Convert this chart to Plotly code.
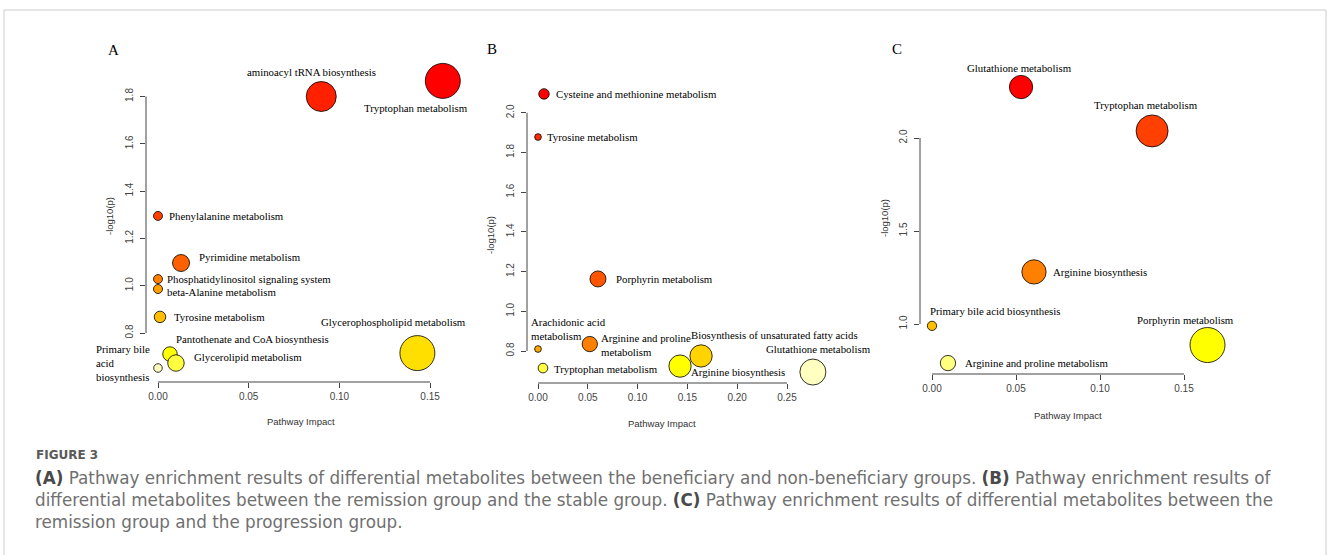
import colorsys
import numpy as np
import plotly.graph_objects as go

W, H = 1328, 555

# ---------------- data ----------------
A_names = ["Tryptophan metabolism", "aminoacyl tRNA biosynthesis", "Phenylalanine metabolism",
           "Pyrimidine metabolism", "Phosphatidylinositol signaling system", "beta-Alanine metabolism",
           "Tyrosine metabolism", "Glycerophospholipid metabolism", "Pantothenate and CoA biosynthesis",
           "Glycerolipid metabolism", "Primary bile<br>acid<br>biosynthesis"]
A_impact = [0.157, 0.090, 0.0, 0.0127, 0.0, 0.0, 0.0011, 0.143, 0.0066, 0.0099, 0.0]
A_logp = [1.866, 1.800, 1.295, 1.096, 1.028, 0.986, 0.868, 0.715, 0.711, 0.673, 0.652]
A_bubble = [35, 30, 9, 17, 9, 9, 11.5, 35, 14.5, 16.5, 8.5]
A_xticks = [0.00, 0.05, 0.10, 0.15]
A_yticks = [0.8, 1.0, 1.2, 1.4, 1.6, 1.8]

B_names = ["Cysteine and methionine metabolism", "Tyrosine metabolism", "Porphyrin metabolism",
           "Arginine and proline<br>metabolism", "Arachidonic acid<br>metabolism",
           "Biosynthesis of unsaturated fatty acids", "Arginine biosynthesis",
           "Tryptophan metabolism", "Glutathione metabolism"]
B_impact = [0.006, 0.0, 0.0602, 0.052, 0.0, 0.1637, 0.1426, 0.005, 0.276]
B_logp = [2.095, 1.878, 1.163, 0.835, 0.810, 0.775, 0.724, 0.714, 0.694]
B_bubble = [10.5, 6.7, 16, 15.3, 6.7, 22.3, 22.3, 9.7, 26]
B_xticks = [0.00, 0.05, 0.10, 0.15, 0.20, 0.25]
B_yticks = [0.8, 1.0, 1.2, 1.4, 1.6, 1.8, 2.0]

C_names = ["Glutathione metabolism", "Tryptophan metabolism", "Arginine biosynthesis",
           "Primary bile acid biosynthesis", "Porphyrin metabolism", "Arginine and proline metabolism"]
C_impact = [0.053, 0.131, 0.0607, 0.0, 0.164, 0.0095]
C_logp = [2.274, 2.038, 1.280, 0.990, 0.887, 0.790]
C_bubble = [23.3, 32, 24.3, 9.3, 35, 15.3]
C_xticks = [0.00, 0.05, 0.10, 0.15]
C_yticks = [1.0, 1.5, 2.0]

caption_title = "FIGURE 3"
caption_lines = [
    "<b>(A)</b> Pathway enrichment results of differential metabolites between the beneficiary and non-beneficiary groups. <b>(B)</b> Pathway enrichment results of",
    "differential metabolites between the remission group and the stable group. <b>(C)</b> Pathway enrichment results of differential metabolites between the",
    "remission group and the progression group.",
]

# ---------------- label placement (px offsets from the bubble centre) ----------------
A_lab = [("center", -27, 27), ("center", -10, -25), ("left", 9, 0), ("left", 16, -6), ("left", 7, 0),
         ("left", 7, 3), ("left", 12, 0), ("right", 51, -31), ("left", 4, -15), ("left", 16, -6),
         ("right", -6, -5)]
B_lab = [("left", 10, 0), ("left", 7, 0), ("left", 16, 0), ("left", 9, 1), ("left", -9, -20),
         ("left", -12, -21), ("left", 9, 6), ("left", 9, 1), ("left", -49, -23)]
C_lab = [("center", -2, -19), ("center", -6, -26), ("left", 17, 0), ("left", -4, -15),
         ("center", -22, -25), ("left", 15, 0)]


def heat_colors(n):
    """R's grDevices::heat.colors(n)."""
    j = n // 4
    i = n - j
    cols = []
    hues = np.linspace(0, 1 / 6, i) if i > 1 else [0]
    for h in hues:
        cols.append(colorsys.hsv_to_rgb(h, 1, 1))
    if j > 0:
        for s in np.linspace(1 - 1 / (2 * j), 1 / (2 * j), j):
            cols.append(colorsys.hsv_to_rgb(1 / 6, s, 1))
    return ["#%02X%02X%02X" % tuple(int(round(c * 255)) for c in col) for col in cols]


def colors_by_p(logp):
    hc = heat_colors(len(logp))
    order = np.argsort(-np.array(logp))
    out = [None] * len(logp)
    for rank, idx in enumerate(order):
        out[idx] = hc[rank]
    return out


# pixel calibration for each panel: data origin pixel, px per unit, plot box (l, r, t, b)
panels = [
    dict(names=A_names, x=A_impact, y=A_logp, s=A_bubble, lab=A_lab, xt=A_xticks, yt=A_yticks,
         x0px=158, xs=1814, y0v=0.8, y0px=333, ys=236.5, box=(146, 478, 40, 382),
         letter="A", lpos=(113, 50), ytitle=(109, 216), xtitle=(301, 421)),
    dict(names=B_names, x=B_impact, y=B_logp, s=B_bubble, lab=B_lab, xt=B_xticks, yt=B_yticks,
         x0px=538, xs=996, y0v=0.8, y0px=351, ys=198.5, box=(527, 875, 40, 383),
         letter="B", lpos=(492, 49), ytitle=(490, 235), xtitle=(662, 423)),
    dict(names=C_names, x=C_impact, y=C_logp, s=C_bubble, lab=C_lab, xt=C_xticks, yt=C_yticks,
         x0px=932, xs=1680, y0v=1.0, y0px=324, ys=186, box=(920, 1240, 40, 374),
         letter="C", lpos=(897, 49), ytitle=(884, 218), xtitle=(1068, 415)),
]

SERIF = "Liberation Serif"
SANS = "Liberation Sans"


def fx(p):
    return p / W


def fy(p):
    return 1 - p / H


fig = go.Figure()
annotations = []
shapes = []
layout = {}

for k, P in enumerate(panels, start=1):
    xa = "x" if k == 1 else f"x{k}"
    ya = "y" if k == 1 else f"y{k}"
    l, r, t, b = P["box"]
    xr = [(l - P["x0px"]) / P["xs"], (r - P["x0px"]) / P["xs"]]
    yr = [P["y0v"] - (b - P["y0px"]) / P["ys"], P["y0v"] + (P["y0px"] - t) / P["ys"]]
    cols = colors_by_p(P["y"])
    fig.add_trace(go.Scatter(
        x=P["x"], y=P["y"], mode="markers", xaxis=xa, yaxis=ya, cliponaxis=False,
        marker=dict(size=P["s"], color=cols, opacity=1, line=dict(color="#000000", width=0.8)),
        hoverinfo="skip", showlegend=False))
    axkey_x = "xaxis" if k == 1 else f"xaxis{k}"
    axkey_y = "yaxis" if k == 1 else f"yaxis{k}"
    common = dict(showgrid=False, zeroline=False, showline=False, ticks="outside", ticklen=5,
                  tickwidth=1, tickcolor="#444444",
                  tickfont=dict(family=SANS, size=10, color="#444444"))
    layout[axkey_x] = dict(domain=[fx(l), fx(r)], range=xr, anchor=ya, tickvals=P["xt"],
                           tickformat=".2f", **common)
    layout[axkey_y] = dict(domain=[fy(b), fy(t)], range=yr, anchor=xa, tickvals=P["yt"],
                           tickformat=".1f", tickangle=-90, ticklabelstandoff=3, **common)
    # R-style axis lines spanning first..last tick
    shapes.append(dict(type="line", xref=xa, yref=f"{ya} domain", x0=P["xt"][0], x1=P["xt"][-1],
                       y0=0, y1=0, line=dict(color="#444444", width=1)))
    shapes.append(dict(type="line", xref=f"{xa} domain", yref=ya, x0=0, x1=0, y0=P["yt"][0],
                       y1=P["yt"][-1], line=dict(color="#444444", width=1)))
    # point labels
    for name, xv, yv, (anc, dx, dy) in zip(P["names"], P["x"], P["y"], P["lab"]):
        annotations.append(dict(x=xv, y=yv, xref=xa, yref=ya, text=name, showarrow=False,
                                xanchor=anc, yanchor="middle", xshift=dx, yshift=-dy, align="left",
                                font=dict(family=SERIF, size=10.8, color="#000000")))
    # panel letter
    annotations.append(dict(x=fx(P["lpos"][0]), y=fy(P["lpos"][1]), xref="paper", yref="paper",
                            text=P["letter"], showarrow=False, xanchor="center", yanchor="middle",
                            font=dict(family=SERIF, size=15, color="#000000")))
    # axis titles
    annotations.append(dict(x=fx(P["xtitle"][0]), y=fy(P["xtitle"][1]), xref="paper", yref="paper",
                            text="Pathway Impact", showarrow=False, xanchor="center", yanchor="middle",
                            font=dict(family=SANS, size=9.5, color="#333333")))
    annotations.append(dict(x=fx(P["ytitle"][0]), y=fy(P["ytitle"][1]), xref="paper", yref="paper",
                            text="-log10(p)", showarrow=False, xanchor="center", yanchor="middle",
                            textangle=-90, font=dict(family=SANS, size=9.5, color="#333333")))

# caption
annotations.append(dict(x=fx(34), y=fy(455), xref="paper", yref="paper", text="<b>" + caption_title + "</b>",
                        showarrow=False, xanchor="left", yanchor="middle",
                        font=dict(family="DejaVu Sans", size=12, color="#5a5a5a")))
for i, line in enumerate(caption_lines):
    annotations.append(dict(x=fx(33), y=fy(478 + 22 * i), xref="paper", yref="paper",
                            text=line.replace("<b>", "<b style='color:#4a4a4a'>"),
                            showarrow=False, xanchor="left", yanchor="middle",
                            font=dict(family="DejaVu Sans", size=16.8, color="#707070")))

# outer light frame
frame = "#cccccc"
shapes += [
    dict(type="line", xref="paper", yref="paper", x0=fx(4), x1=fx(1326), y0=fy(10), y1=fy(10),
         line=dict(color=frame, width=1)),
    dict(type="line", xref="paper", yref="paper", x0=fx(4), x1=fx(4), y0=fy(10), y1=0,
         line=dict(color=frame, width=1)),
    dict(type="line", xref="paper", yref="paper", x0=fx(1326), x1=fx(1326), y0=fy(10), y1=0,
         line=dict(color=frame, width=1)),
]

fig.update_layout(width=W, height=H, margin=dict(l=0, r=0, t=0, b=0),
                  paper_bgcolor="white", plot_bgcolor="white",
                  annotations=annotations, shapes=shapes, **layout)

fig.write_html("out.html", config={"displayModeBar": False},
               post_script="document.body.style.margin='0px';document.body.style.overflow='hidden';")
